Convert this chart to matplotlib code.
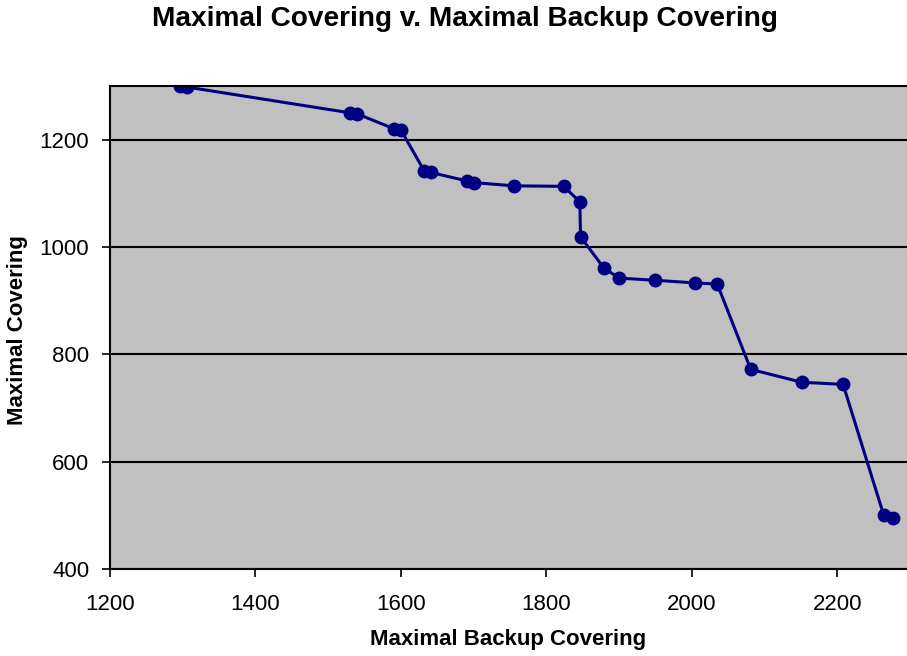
import matplotlib
matplotlib.use("Agg")
import matplotlib.pyplot as plt

plt.rcParams['font.family'] = ['Liberation Sans', 'DejaVu Sans']

# points
backup_covering = [1296, 1306, 1530, 1540, 1591, 1600, 1632, 1641, 1691, 1700,
                   1755, 1824, 1846, 1847, 1879, 1900, 1950, 2005, 2035, 2081,
                   2151, 2208, 2264, 2276]
maximal_covering = [1300, 1298, 1250, 1248, 1220, 1218, 1142, 1139, 1123, 1120,
                    1114, 1113, 1084, 1019, 961, 942, 938, 933, 931, 772,
                    748, 744, 500, 495]

fig = plt.figure(figsize=(9.07, 6.56), dpi=100)
ax = fig.add_axes([110/907, 1 - 569/656, 800/907, (569-86)/656])

ax.set_facecolor('#C0C0C0')
ax.plot(backup_covering, maximal_covering, color='#000080', linewidth=2.2,
        marker='o', markersize=9, markerfacecolor='#000080', markeredgecolor='#000080')

ax.set_xlim(1200, 2300)
ax.set_ylim(400, 1300)
ax.set_xticks([1200, 1400, 1600, 1800, 2000, 2200])
ax.set_yticks([400, 600, 800, 1000, 1200])
ax.yaxis.grid(True, color='black', linewidth=1.5)
ax.set_axisbelow(True)
for s in ax.spines.values():
    s.set_color('black')
    s.set_linewidth(1.5)
ax.tick_params(direction='out', length=6, width=1.2, labelsize=16)
ax.tick_params(axis='x', pad=12)
ax.tick_params(axis='y', pad=9)

fig.text(465/907, 1 - 19/656, "Maximal Covering v. Maximal Backup Covering",
         ha='center', va='center', fontsize=20.2, fontweight='bold')
fig.text(508/907, 1 - 640/656, "Maximal Backup Covering",
         ha='center', va='center', fontsize=16, fontweight='bold')
fig.text(18/907, 1 - 330/656, "Maximal Covering", rotation=90,
         ha='center', va='center', fontsize=16, fontweight='bold')

plt.savefig("out.png", dpi=100)
